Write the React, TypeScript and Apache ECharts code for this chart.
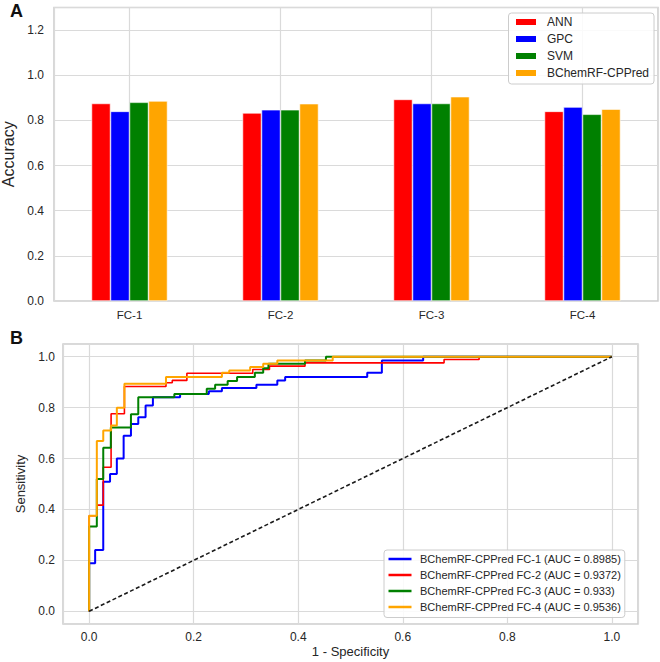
import React, { useEffect, useRef } from 'react';
import * as echarts from 'echarts';

// ---------- Panel A data ----------
const categories = ['FC-1', 'FC-2', 'FC-3', 'FC-4'];
const modelNames = ['ANN', 'GPC', 'SVM', 'BChemRF-CPPred'];
const annAccuracy = [0.875, 0.833, 0.893, 0.840];
const gpcAccuracy = [0.840, 0.847, 0.875, 0.859];
const svmAccuracy = [0.880, 0.847, 0.875, 0.827];
const bchemAccuracy = [0.886, 0.874, 0.905, 0.850];
const barColors = ['#ff0000', '#0000ff', '#008000', '#ffa500'];

// ---------- Panel B data (ROC corner points: [1 - specificity, sensitivity]) ----------
const rocNames = [
  'BChemRF-CPPred FC-1 (AUC = 0.8985)',
  'BChemRF-CPPred FC-2 (AUC = 0.9372)',
  'BChemRF-CPPred FC-3 (AUC = 0.933)',
  'BChemRF-CPPred FC-4 (AUC = 0.9536)',
];
const rocColors = ['#0000ff', '#ff0000', '#008000', '#ffa500'];
const rocWidths = [2, 1.6, 2, 2];

const rocFc1 = [
  [0, 0], [0, 0.189], [0.0115, 0.189], [0.0115, 0.241], [0.027, 0.241], [0.027, 0.509],
  [0.040, 0.509], [0.040, 0.539], [0.053, 0.539], [0.053, 0.600], [0.066, 0.600], [0.066, 0.690],
  [0.080, 0.690], [0.080, 0.736], [0.094, 0.736], [0.094, 0.762], [0.108, 0.762], [0.108, 0.808],
  [0.122, 0.808], [0.122, 0.841], [0.174, 0.841], [0.174, 0.854], [0.229, 0.854], [0.229, 0.864],
  [0.254, 0.864], [0.254, 0.877], [0.320, 0.877], [0.320, 0.890], [0.360, 0.890], [0.360, 0.907],
  [0.375, 0.907], [0.375, 0.920], [0.532, 0.920], [0.532, 0.937], [0.560, 0.937], [0.560, 0.985],
  [0.639, 0.985], [0.639, 1.0], [1.0, 1.0],
];
const rocFc2 = [
  [0, 0], [0, 0.375], [0.0147, 0.375], [0.0147, 0.417], [0.027, 0.417], [0.027, 0.566],
  [0.042, 0.566], [0.042, 0.776], [0.0675, 0.776], [0.0675, 0.883], [0.147, 0.883], [0.147, 0.898],
  [0.159, 0.898], [0.159, 0.907], [0.187, 0.907], [0.187, 0.935], [0.313, 0.935], [0.313, 0.950],
  [0.345, 0.950], [0.345, 0.963], [0.413, 0.963], [0.413, 0.976], [0.679, 0.976], [0.679, 0.989],
  [0.746, 0.989], [0.746, 1.0], [1.0, 1.0],
];
const rocFc3 = [
  [0, 0], [0, 0.333], [0.0147, 0.333], [0.0147, 0.520], [0.027, 0.520], [0.027, 0.642],
  [0.0415, 0.642], [0.0415, 0.722], [0.080, 0.722], [0.080, 0.774], [0.094, 0.774], [0.094, 0.841],
  [0.163, 0.841], [0.163, 0.854], [0.225, 0.854], [0.225, 0.874], [0.241, 0.874], [0.241, 0.890],
  [0.265, 0.890], [0.265, 0.905], [0.283, 0.905], [0.283, 0.920], [0.317, 0.920], [0.317, 0.937],
  [0.333, 0.937], [0.333, 0.955], [0.343, 0.955], [0.343, 0.972], [0.413, 0.972], [0.413, 0.985],
  [0.453, 0.985], [0.453, 1.0], [1.0, 1.0],
];
const rocFc4 = [
  [0, 0], [0, 0.375], [0.0147, 0.375], [0.0147, 0.669], [0.027, 0.669], [0.027, 0.710],
  [0.042, 0.710], [0.042, 0.730], [0.053, 0.730], [0.053, 0.800], [0.0675, 0.800], [0.0675, 0.894],
  [0.147, 0.894], [0.147, 0.920], [0.254, 0.920], [0.254, 0.937], [0.268, 0.937], [0.268, 0.946],
  [0.308, 0.946], [0.308, 0.960], [0.333, 0.960], [0.333, 0.972], [0.360, 0.972], [0.360, 0.985],
  [0.466, 0.985], [0.466, 1.0], [1.0, 1.0],
];
const rocSeriesData = [rocFc1, rocFc2, rocFc3, rocFc4];
const chanceLine = [[0, 0], [1, 1]];

const FONT = '"Liberation Sans", Arial, Helvetica, sans-serif';
const TEXT = '#262626';
const GRID_LINE = '#dadada';
const FRAME = '#cdcdcd';

const fmtTick = (step: number) => (v: number) => {
  const k = v / step;
  if (Math.abs(k - Math.round(k)) > 1e-6) return '';
  return v.toFixed(1);
};

export default function App() {
  const ref = useRef<HTMLDivElement>(null);
  useEffect(() => {
    if (!ref.current) return;
    const chart = echarts.init(ref.current, undefined, { renderer: 'svg' });
    const accSeries = [annAccuracy, gpcAccuracy, svmAccuracy, bchemAccuracy];
    const option: any = {
      animation: false,
      backgroundColor: '#ffffff',
      textStyle: { fontFamily: FONT, color: TEXT },
      graphic: [
        { type: 'text', left: 10, top: 2, style: { text: 'A', fontSize: 18, fontWeight: 'bold', fontFamily: FONT, fill: '#111' } },
        { type: 'text', left: 10, top: 329, style: { text: 'B', fontSize: 18, fontWeight: 'bold', fontFamily: FONT, fill: '#111' } },
      ],
      grid: [
        {
          left: 54, right: 2, top: 7.5, bottom: 361, containLabel: false, outerBoundsMode: 'none',
          show: true, borderColor: FRAME, borderWidth: 1.5, backgroundColor: 'transparent',
        },
        {
          left: 63, right: 22, top: 344, bottom: 38, containLabel: false, outerBoundsMode: 'none',
          show: true, borderColor: FRAME, borderWidth: 1.5, backgroundColor: 'transparent',
        },
      ],
      xAxis: [
        {
          type: 'category', gridIndex: 0, data: categories,
          axisLine: { show: false }, axisTick: { show: false }, splitLine: { show: false },
          axisLabel: { color: TEXT, fontSize: 11.5, fontFamily: FONT, margin: 8 },
        },
        {
          type: 'value', gridIndex: 0, min: -0.5, max: 3.5, minInterval: 1, maxInterval: 1,
          axisLine: { show: false }, axisTick: { show: false }, axisLabel: { show: false },
          splitLine: { show: true, lineStyle: { color: GRID_LINE, width: 1.2 } },
        },
        {
          type: 'value', gridIndex: 1, min: -0.05, max: 1.05, minInterval: 0.2, maxInterval: 0.2,
          name: '1 - Specificity', nameLocation: 'middle', nameGap: 21,
          nameTextStyle: { fontSize: 13, color: TEXT, fontFamily: FONT },
          axisLine: { show: false }, axisTick: { show: false },
          axisLabel: { color: TEXT, fontSize: 12, fontFamily: FONT, margin: 7, showMinLabel: false, showMaxLabel: false, formatter: fmtTick(0.2) },
          splitLine: { show: true, lineStyle: { color: GRID_LINE, width: 1.2 } },
        },
      ],
      yAxis: [
        {
          type: 'value', gridIndex: 0, min: 0, max: 1.3, interval: 0.2,
          name: 'Accuracy', nameLocation: 'middle', nameGap: 37,
          nameTextStyle: { fontSize: 16, color: TEXT, fontFamily: FONT },
          axisLine: { show: false }, axisTick: { show: false },
          axisLabel: { color: TEXT, fontSize: 12, fontFamily: FONT, margin: 10, showMaxLabel: false, formatter: fmtTick(0.2) },
          splitLine: { show: true, lineStyle: { color: GRID_LINE, width: 1.2 } },
        },
        {
          type: 'value', gridIndex: 1, min: -0.05, max: 1.05, minInterval: 0.2, maxInterval: 0.2,
          name: 'Sensitivity', nameLocation: 'middle', nameGap: 29,
          nameTextStyle: { fontSize: 13, color: TEXT, fontFamily: FONT },
          axisLine: { show: false }, axisTick: { show: false },
          axisLabel: { color: TEXT, fontSize: 12, fontFamily: FONT, margin: 8, showMinLabel: false, showMaxLabel: false, formatter: fmtTick(0.2) },
          splitLine: { show: true, lineStyle: { color: GRID_LINE, width: 1.2 } },
        },
      ],
      legend: [
        {
          data: modelNames, orient: 'vertical', left: 508.5, top: 13,
          padding: [3, 5, 5, 5.5], itemGap: 5, itemWidth: 22, itemHeight: 8, icon: 'rect',
          backgroundColor: 'rgba(255,255,255,0.85)', borderColor: '#cccccc', borderWidth: 1, borderRadius: 3,
          textStyle: { fontSize: 12, color: TEXT, fontFamily: FONT, padding: [0, 0, 0, 5] },
        },
        {
          data: rocNames, orient: 'vertical', left: 384, top: 550,
          padding: [3.5, 4, 5, 4.5], itemGap: 5, itemWidth: 23, itemHeight: 2.5, icon: 'rect',
          backgroundColor: 'rgba(255,255,255,0.85)', borderColor: '#cccccc', borderWidth: 1, borderRadius: 3,
          textStyle: { fontSize: 11, color: TEXT, fontFamily: FONT, padding: [0, 0, 0, 3.5], lineHeight: 11 },
        },
      ],
      series: [
        ...modelNames.map((name, i) => ({
          type: 'bar', name, xAxisIndex: 0, yAxisIndex: 0,
          data: accSeries[i], barWidth: 19, barGap: '0%',
          itemStyle: { color: barColors[i], borderColor: '#ffffff', borderWidth: 0.6 },
          z: 3,
        })),
        ...rocNames.map((name, i) => ({
          type: 'line', name, xAxisIndex: 2, yAxisIndex: 1,
          data: rocSeriesData[i], symbol: 'none', showSymbol: false,
          lineStyle: { color: rocColors[i], width: rocWidths[i] },
          itemStyle: { color: rocColors[i] },
          z: 3 + i,
        })),
        {
          type: 'line', name: 'chance', xAxisIndex: 2, yAxisIndex: 1,
          data: chanceLine, symbol: 'none', showSymbol: false,
          lineStyle: { color: '#1a1a1a', width: 1.6, type: [4, 2.5] },
          z: 8,
        },
      ],
    };
    chart.setOption(option);
    return () => chart.dispose();
  }, []);
  return <div ref={ref} style={{ position: 'absolute', left: 0, top: 0, width: 660, height: 662 }} />;
}
